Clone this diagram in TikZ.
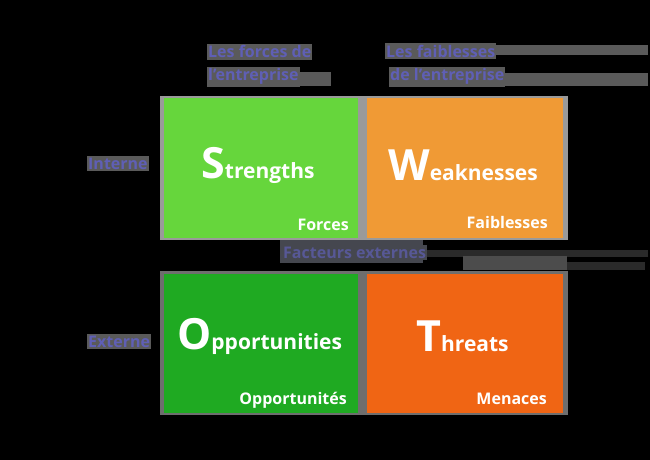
\documentclass[tikz,border=0pt]{standalone}
\usepackage{fontspec}
\setmainfont{Open Sans}
\definecolor{sgreen}{HTML}{66D63C}
\definecolor{worange}{HTML}{F09A35}
\definecolor{ogreen}{HTML}{1FAA22}
\definecolor{tred}{HTML}{F06514}
\definecolor{frameA}{HTML}{9A9A9A}
\definecolor{frameB}{HTML}{6E6E6E}
\definecolor{lblbg}{HTML}{5A5A5A}
\definecolor{lbltext}{HTML}{5F5FB5}
\definecolor{midbg}{HTML}{45474F}
\definecolor{bar}{HTML}{4C4C4C}
\definecolor{darkbar}{HTML}{2A2A2A}
\tikzset{
  box/.style={inner sep=0pt, outer sep=0pt, anchor=north west},
  big/.style={anchor=base west, inner sep=0pt, text=white, font=\bfseries},
  small/.style={anchor=base east, inner sep=0pt, text=white, font=\bfseries\fontsize{16}{16}\selectfont},
  lbl/.style={inner xsep=1pt, inner ysep=2pt, fill=lblbg, text=lbltext, font=\bfseries\fontsize{16}{18}\selectfont, anchor=base west},
}
\newcommand{\swotbig}[1]{{\fontsize{43}{43}\selectfont #1}}
\newcommand{\swotmid}[1]{{\fontsize{21}{21}\selectfont #1}}
\begin{document}
\begin{tikzpicture}[x=1pt,y=-1pt]
\fill[black] (0,0) rectangle (650,460);
\useasboundingbox (0,0) rectangle (650,460);
% frames
\node[box, fill=frameA, minimum width=408pt, minimum height=144pt] (ftop) at (160,96) {};
\node[box, fill=frameB, minimum width=408pt, minimum height=144pt] (fbot) at (160,271) {};
% quadrants
\node[box, fill=sgreen, minimum width=194pt, minimum height=140pt] (s) at (164,98) {};
\node[box, fill=worange, minimum width=196pt, minimum height=140pt] (w) at (367,98) {};
\node[box, fill=ogreen, minimum width=194pt, minimum height=139pt] (o) at (164,274) {};
\node[box, fill=tred, minimum width=196pt, minimum height=139pt] (t) at (367,274) {};
% titles
\node[big] (st) at (201,178) {\swotbig{S}\swotmid{trengths}};
\node[big] (wt) at (388,180) {\swotbig{W}\swotmid{eaknesses}};
\node[big] (ot) at (177,349) {\swotbig{O}\swotmid{pportunities}};
\node[big] (tt) at (416,351) {\swotbig{T}\swotmid{hreats}};
% subtitles
\node[small] (sf) at (349,230) {Forces};
\node[small] (wf) at (548,228) {Faiblesses};
\node[small] (of) at (347,404) {Opportunités};
\node[small] (tf) at (547,404) {Menaces};
% decorative bars
\fill[lblbg] (293,72) rectangle (331,86);
\fill[lblbg] (488,45) rectangle (648,55);
\fill[lblbg] (500,73) rectangle (648,86);
\fill[midbg] (280,240) rectangle (423,263);
\fill[darkbar] (423,250) rectangle (648,257);
\fill[bar] (463,256) rectangle (567,270);
\fill[darkbar] (567,262) rectangle (645,270);
% labels
\node[lbl] (tl1) at (207,58) {Les forces de};
\node[lbl] (tl2) at (207,81) {l'entreprise};
\node[lbl] (tr1) at (385,57) {Les faiblesses};
\node[lbl] (tr2) at (389,81) {de l'entreprise};
\node[lbl] (li) at (87,169) {Interne};
\node[lbl] (le) at (87,347) {Externe};
\node[lbl, fill=midbg, text=lbltext!70!midbg] (mid) at (282,258) {Facteurs externes};
\end{tikzpicture}
\end{document}
